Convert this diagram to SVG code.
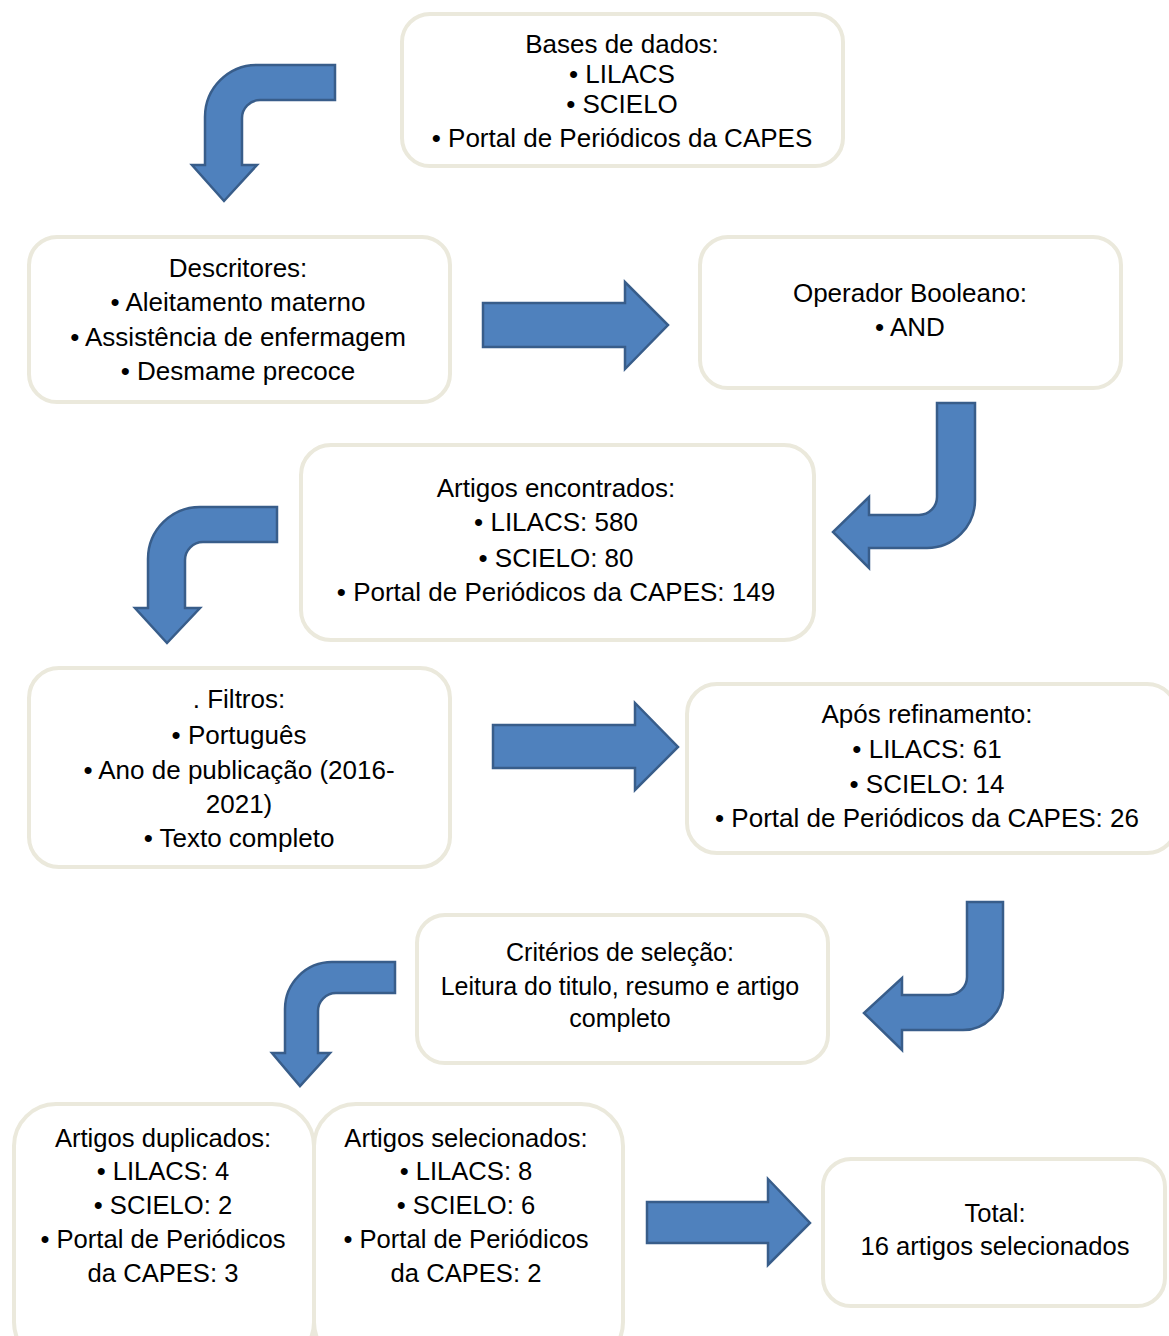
<svg xmlns="http://www.w3.org/2000/svg" width="1169" height="1336" viewBox="0 0 1169 1336">
<style>
.box{fill:#ffffff;stroke:#ebe9dc;stroke-width:4}
.arr{fill:#4f81bd;stroke:#385d8a;stroke-width:2.5;stroke-linejoin:miter}
text{font-family:"Liberation Sans",Arial,sans-serif;font-size:26px;fill:#000;text-anchor:middle}
.s{font-size:25px}
.m{font-size:25.6px}
</style>
<rect width="1169" height="1336" fill="#ffffff"/>
<g id="connectors">
<path class="arr" d="M335,65 L257,65 A52,52 0 0 0 205,117 L205,165 L192,165 L224,201 L257,165 L242,165 L242,118 A18,18 0 0 1 260,100 L335,100 Z"/>
<path class="arr" d="M483,303 L625,303 L625,282 L668,325 L625,369 L625,347 L483,347 Z"/>
<path class="arr" d="M975,403 L975,500 A48,48 0 0 1 927,548 L869,548 L869,568 L833,532 L869,497 L869,515 L919,515 A18,18 0 0 0 937,497 L937,403 Z"/>
<path class="arr" d="M277,507 L200,507 A52,52 0 0 0 148,559 L148,608 L135,608 L167,643 L200,608 L185,608 L185,560 A18,18 0 0 1 203,542 L277,542 Z"/>
<path class="arr" d="M493,725 L635,725 L635,703 L678,747 L635,790 L635,768 L493,768 Z"/>
<path class="arr" d="M1003,902 L1003,990 A40,40 0 0 1 963,1030 L902,1030 L902,1050 L864,1013 L902,978 L902,995 L949,995 A18,18 0 0 0 967,977 L967,902 Z"/>
<path class="arr" d="M395,962 L332,962 A47,47 0 0 0 285,1009 L285,1053 L272,1053 L300,1086 L330,1053 L318,1053 L318,1011 A18,18 0 0 1 336,993 L395,993 Z"/>
<path class="arr" d="M647,1202 L768,1202 L768,1179 L810,1223 L768,1265 L768,1243 L647,1243 Z"/>
</g>
<g id="bases">
<rect class="box" x="402" y="14" width="441" height="152" rx="28"/>
<text x="622" y="53">Bases de dados:</text>
<text x="622" y="83">• LILACS</text>
<text x="622" y="113">• SCIELO</text>
<text x="622" y="147">• Portal de Periódicos da CAPES</text>
</g>
<g id="descritores">
<rect class="box" x="29" y="237" width="421" height="165" rx="28"/>
<text x="238" y="277">Descritores:</text>
<text x="238" y="311">• Aleitamento materno</text>
<text x="238" y="346">• Assistência de enfermagem</text>
<text x="238" y="380">• Desmame precoce</text>
</g>
<g id="operador">
<rect class="box" x="700" y="237" width="421" height="151" rx="28"/>
<text x="910" y="302">Operador Booleano:</text>
<text x="910" y="336">• AND</text>
</g>
<g id="encontrados">
<rect class="box" x="301" y="445" width="513" height="195" rx="30"/>
<text x="556" y="497">Artigos encontrados:</text>
<text x="556" y="531">• LILACS: 580</text>
<text x="556" y="567">• SCIELO: 80</text>
<text x="556" y="601">• Portal de Periódicos da CAPES: 149</text>
</g>
<g id="filtros">
<rect class="box" x="29" y="668" width="421" height="199" rx="30"/>
<text x="239" y="708">. Filtros:</text>
<text x="239" y="744">• Português</text>
<text x="239" y="779">• Ano de publicação (2016-</text>
<text x="239" y="813">2021)</text>
<text x="239" y="847">• Texto completo</text>
</g>
<g id="refinamento">
<rect class="box" x="687" y="684" width="490" height="169" rx="30"/>
<text x="927" y="723">Após refinamento:</text>
<text x="927" y="758">• LILACS: 61</text>
<text x="927" y="793">• SCIELO: 14</text>
<text x="927" y="827">• Portal de Periódicos da CAPES: 26</text>
</g>
<g id="criterios">
<rect class="box" x="417" y="915" width="411" height="148" rx="28"/>
<text class="s" x="620" y="961">Critérios de seleção:</text>
<text class="s" x="620" y="995">Leitura do titulo, resumo e artigo</text>
<text class="s" x="620" y="1027">completo</text>
</g>
<g id="duplicados">
<rect class="box" x="14" y="1104" width="300" height="260" rx="42"/>
<text class="m" x="163" y="1147">Artigos duplicados:</text>
<text class="m" x="163" y="1180">• LILACS: 4</text>
<text class="m" x="163" y="1214">• SCIELO: 2</text>
<text class="m" x="163" y="1248">• Portal de Periódicos</text>
<text class="m" x="163" y="1282">da CAPES: 3</text>
</g>
<g id="selecionados">
<rect class="box" x="314" y="1104" width="309" height="260" rx="42"/>
<text class="m" x="466" y="1147">Artigos selecionados:</text>
<text class="m" x="466" y="1180">• LILACS: 8</text>
<text class="m" x="466" y="1214">• SCIELO: 6</text>
<text class="m" x="466" y="1248">• Portal de Periódicos</text>
<text class="m" x="466" y="1282">da CAPES: 2</text>
</g>
<g id="total">
<rect class="box" x="823" y="1159" width="342" height="147" rx="28"/>
<text class="m" x="995" y="1222">Total:</text>
<text class="m" x="995" y="1255">16 artigos selecionados</text>
</g>
</svg>
